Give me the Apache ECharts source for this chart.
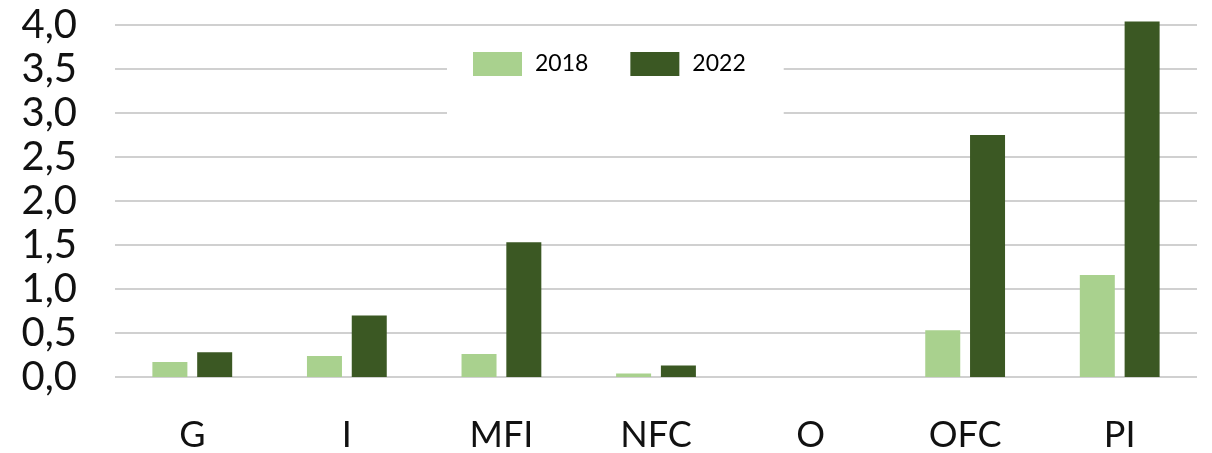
<!DOCTYPE html>
<html>
<head>
<meta charset="utf-8">
<script src="https://cdn.jsdelivr.net/npm/echarts@6/dist/echarts.min.js"></script>
<style>
html, body { margin: 0; padding: 0; background: #fff; }
#container { width: 1212px; height: 453px; }
</style>
</head>
<body>
<div id="container"></div>
<script>
// data
var categories = ['G', 'I', 'MFI', 'NFC', 'O', 'OFC', 'PI'];
var values2018 = [0.17, 0.24, 0.26, 0.04, 0, 0.53, 1.16];
var values2022 = [0.28, 0.70, 1.53, 0.13, 0, 2.75, 4.04];
var seriesNames = ['2018', '2022'];

var dom = document.getElementById("container");
var myChart = echarts.init(dom);
var option = {
	animation: false,
	color: ['#a9d18e', '#3b5823'],
	textStyle: { fontFamily: 'Lato' },
	grid: {
		left: 115,
		right: 15,
		top: 25,
		bottom: 73
	},
	legend: {
		left: 447,
		top: 40,
		padding: [12, 38, 44, 26],
		backgroundColor: '#fff',
		itemWidth: 49,
		itemHeight: 24,
		itemGap: 42,
		icon: 'rect',
		textStyle: {
			fontSize: 23,
			color: '#000',
			padding: [0, 0, 0, 8]
		},
		data: seriesNames
	},
	xAxis: {
		type: 'category',
		data: categories,
		axisLine: { show: false },
		axisTick: { show: false },
		axisLabel: {
			fontSize: 36,
			color: '#111',
			margin: 40
		}
	},
	yAxis: {
		type: 'value',
		min: 0,
		max: 4,
		interval: 0.5,
		axisLine: { show: false },
		axisTick: { show: false },
		splitLine: {
			lineStyle: { color: '#d0d0d0', width: 2 }
		},
		axisLabel: {
			fontSize: 40,
			color: '#111',
			margin: 38,
			formatter: function (v) {
				return v.toFixed(1).replace('.', ',');
			}
		}
	},
	series: [
		{
			name: seriesNames[0],
			type: 'bar',
			barWidth: 35,
			barGap: '28%',
			clip: false,
			data: values2018
		},
		{
			name: seriesNames[1],
			type: 'bar',
			barWidth: 35,
			barGap: '28%',
			clip: false,
			data: values2022
		}
	]
};
myChart.setOption(option, true);
</script>
</body>
</html>
